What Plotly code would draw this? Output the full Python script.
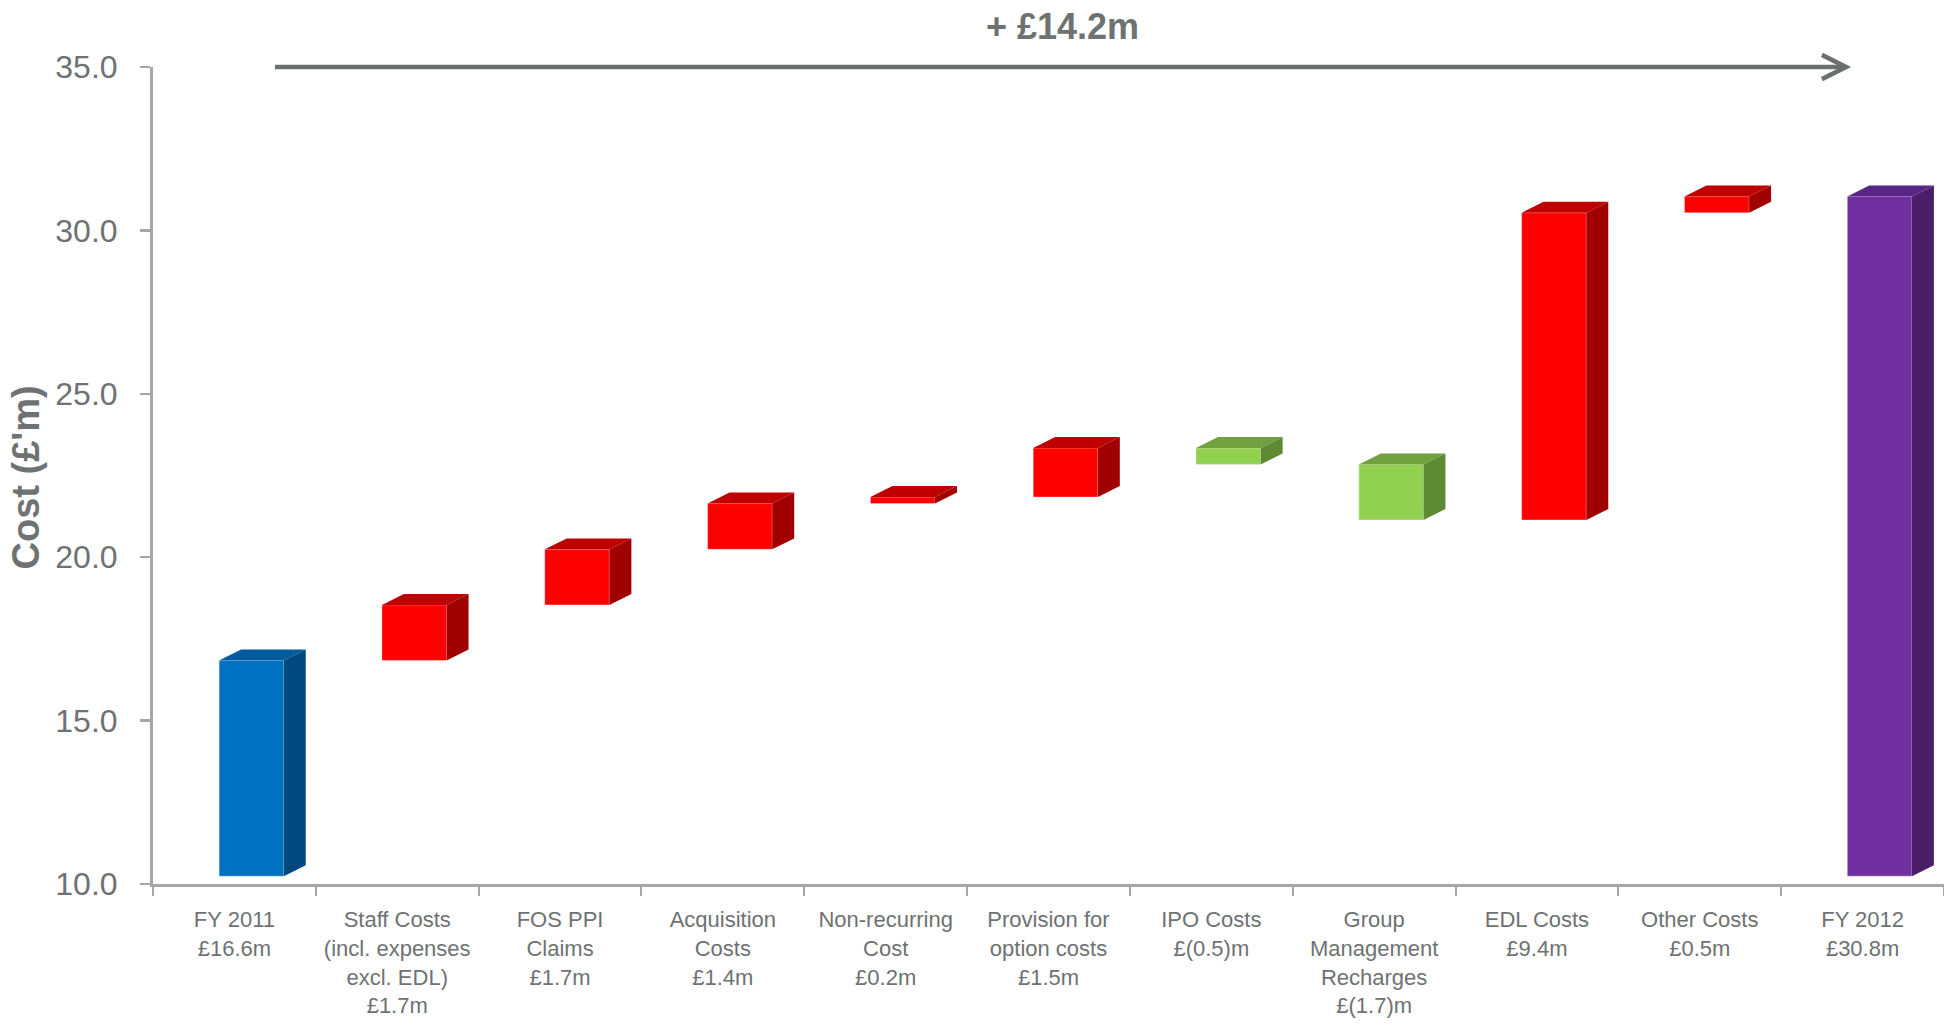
import plotly.graph_objects as go

# ---------------- data ----------------
categories = [
    "FY 2011<br>£16.6m",
    "Staff Costs<br>(incl. expenses<br>excl. EDL)<br>£1.7m",
    "FOS PPI<br>Claims<br>£1.7m",
    "Acquisition<br>Costs<br>£1.4m",
    "Non-recurring<br>Cost<br>£0.2m",
    "Provision for<br>option costs<br>£1.5m",
    "IPO Costs<br>£(0.5)m",
    "Group<br>Management<br>Recharges<br>£(1.7)m",
    "EDL Costs<br>£9.4m",
    "Other Costs<br>£0.5m",
    "FY 2012<br>£30.8m",
]
start_value = 16.6
changes = [1.7, 1.7, 1.4, 0.2, 1.5, -0.5, -1.7, 9.4, 0.5]
end_value = 30.8
total_change_label = "+ £14.2m"
y_tick_values = [10, 15, 20, 25, 30, 35]
y_min, y_max = 10, 35

# ---------------- styling ----------------
palette = {
    "start": ("#0070C0", "#005A9E", "#00497F"),
    "end": ("#7030A0", "#5A2686", "#4A1F68"),
    "up": ("#FF0000", "#C00000", "#A00000"),
    "down": ("#92D050", "#71A03E", "#5E8A33"),
}
FACE_OFFSET = -0.094   # front face left edge relative to category centre
FACE_WIDTH = 0.397
SET_Y = 0.24           # set-back of the bars on the 3D floor (y units)
DEPTH_X = 0.135        # 3D depth vector
DEPTH_Y = 0.336
GREY_TXT = "#6E7272"
GREY_AX = "#A6A6A6"
FONT = "Liberation Sans, Arial, sans-serif"

# ---------------- waterfall geometry from data ----------------
bases, heights, kinds = [y_min], [start_value - y_min], ["start"]
cum = start_value
for d in changes:
    bases.append(min(cum, cum + d))
    heights.append(abs(d))
    kinds.append("up" if d >= 0 else "down")
    cum += d
bases.append(y_min)
heights.append(end_value - y_min)
kinds.append("end")

idx = list(range(len(categories)))

fig = go.Figure()
fig.add_trace(go.Bar(
    x=idx, y=heights, base=[b + SET_Y for b in bases],
    offset=FACE_OFFSET, width=FACE_WIDTH,
    marker=dict(color=[palette[k][0] for k in kinds],
                line=dict(width=1, color="rgba(255,255,255,0.35)")),
    hoverinfo="skip", showlegend=False,
))

for i, (b, h, k) in enumerate(zip(bases, heights, kinds)):
    left = i + FACE_OFFSET
    right = left + FACE_WIDTH
    bot = b + SET_Y
    top = b + h + SET_Y
    # top face
    fig.add_trace(go.Scatter(
        x=[left, left + DEPTH_X, right + DEPTH_X, right, left],
        y=[top, top + DEPTH_Y, top + DEPTH_Y, top, top],
        fill="toself", fillcolor=palette[k][1], mode="lines",
        line=dict(width=0, color=palette[k][1]),
        hoverinfo="skip", showlegend=False,
    ))
    # side face
    fig.add_trace(go.Scatter(
        x=[right, right, right + DEPTH_X, right + DEPTH_X, right],
        y=[bot, top, top + DEPTH_Y, bot + DEPTH_Y, bot],
        fill="toself", fillcolor=palette[k][2], mode="lines",
        line=dict(width=0, color=palette[k][2]),
        hoverinfo="skip", showlegend=False,
    ))

# overall change arrow and label
fig.add_annotation(
    x=9.93, y=y_max, xref="x", yref="y",
    ax=0.24, ay=y_max, axref="x", ayref="y",
    text="", showarrow=True, arrowhead=5, arrowwidth=4.5, arrowsize=1.05,
    arrowcolor="#6B706F", standoff=0,
)
fig.add_annotation(
    x=5.083, y=1.0498, xref="x", yref="paper",
    text=total_change_label, showarrow=False,
    xanchor="center", yanchor="middle",
    font=dict(family=FONT, size=36, color=GREY_TXT, weight="bold"),
)
fig.add_annotation(
    x=-0.0707, y=0.498, xref="paper", yref="paper",
    text="<b>Cost (£'m)</b>", showarrow=False, textangle=-90,
    xanchor="center", yanchor="middle",
    font=dict(family=FONT, size=38, color=GREY_TXT),
)

fig.update_layout(
    width=1944, height=1026,
    margin=dict(l=153, r=0, t=67, b=142),
    paper_bgcolor="white", plot_bgcolor="white",
    showlegend=False,
    xaxis=dict(
        range=[-0.5, len(categories) - 0.5],
        tickmode="array", tickvals=idx, ticktext=categories,
        ticks="", showgrid=False, zeroline=False,
        showline=True, linecolor=GREY_AX, linewidth=3,
        tickfont=dict(family=FONT, size=22, color=GREY_TXT),
        ticklabelstandoff=14,
        minor=dict(
            tickmode="array",
            tickvals=[i - 0.5 for i in range(len(categories) + 1)],
            ticks="outside", ticklen=9, tickwidth=2, tickcolor=GREY_AX,
            showgrid=False,
        ),
        fixedrange=True,
    ),
    yaxis=dict(
        range=[y_min, y_max],
        tickmode="array", tickvals=y_tick_values, tickformat=".1f",
        ticks="outside", ticklen=10, tickwidth=2.5, tickcolor=GREY_AX,
        showline=True, linecolor=GREY_AX, linewidth=3,
        showgrid=False, zeroline=False,
        tickfont=dict(family=FONT, size=32, color=GREY_TXT),
        ticklabelstandoff=16,
        fixedrange=True,
    ),
)

# remove the default page margin so the figure fills the window exactly
fig.write_html(
    "out.html",
    config={"displayModeBar": False, "staticPlot": True},
    post_script="document.body.style.margin='0';document.body.style.overflow='hidden';",
)
